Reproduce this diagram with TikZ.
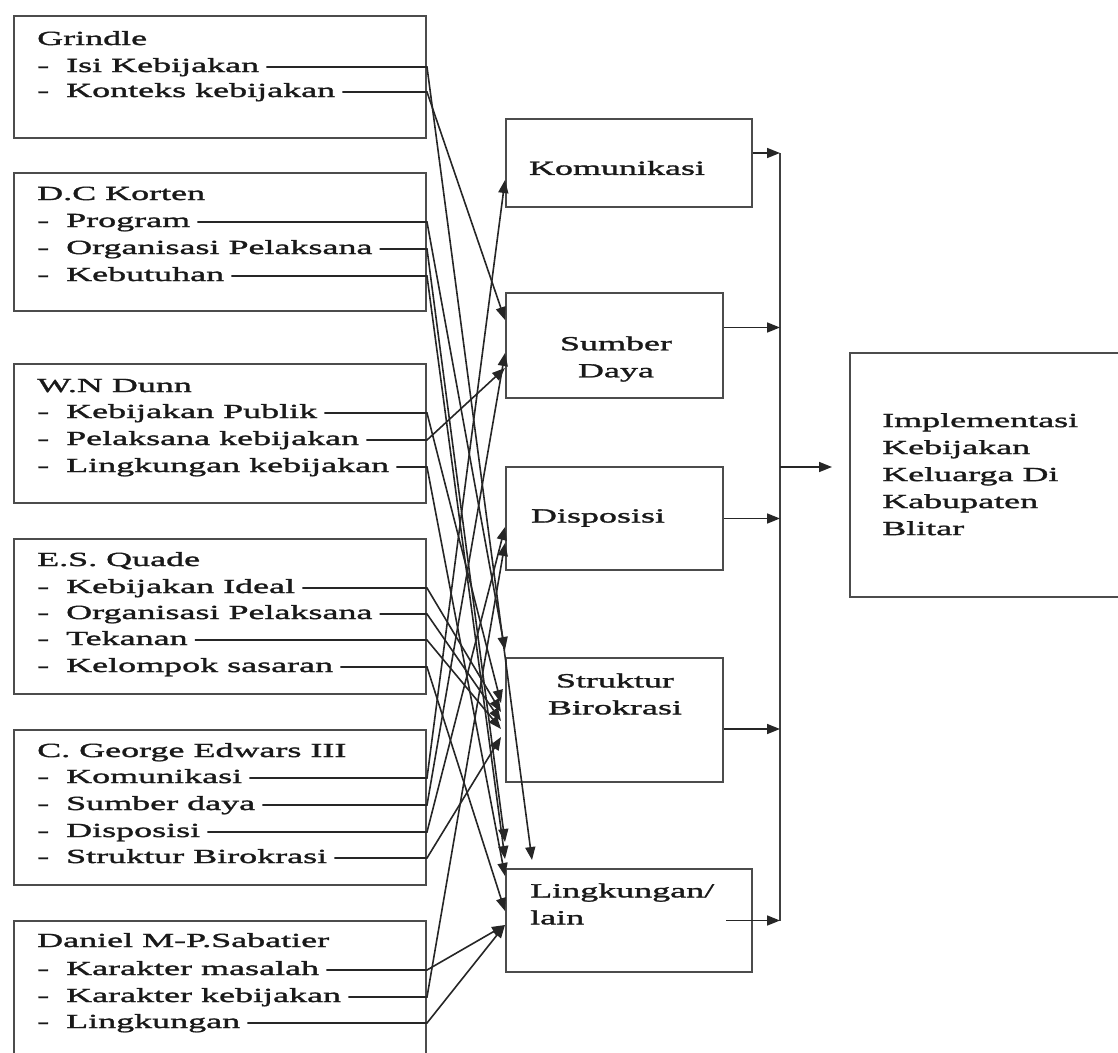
\documentclass[tikz,border=0pt]{standalone}
\usepackage{fontspec}
\setmainfont[FakeStretch=1.8, FakeBold=1.6]{Liberation Serif}
\usetikzlibrary{positioning, arrows.meta}

\newcommand{\itm}[1]{\makebox[29pt][l]{-}#1}

\begin{document}
\begin{tikzpicture}[x=1pt, y=-1pt,
    txt/.style={font=\fontsize{20}{27}\selectfont, inner sep=0pt, text=black!90},
    item/.style={txt, anchor=base west, inner xsep=7pt, text height=14pt, text depth=4pt},
    box/.style={draw=black!70, line width=2pt, inner sep=0pt},
    srcbox/.style={box, anchor=north west, minimum width=412pt},
    link/.style={draw=black!85, line width=1.6pt, -{Triangle[length=13pt,width=10pt]}},
    bar/.style={draw=black!75, line width=2pt}]
    \useasboundingbox (0,0) rectangle (1118,1052);

    % Theories (left column)
    \node[srcbox, minimum height=122pt] (grindle) at (13,15) {};
    \node[item] (grindle-t) at (30,45) {Grindle};
    \node[item] (g1) at (30,72) {\itm{Isi Kebijakan}};
    \node[item] (g2) at (30,97) {\itm{Konteks kebijakan}};

    \node[srcbox, minimum height=138pt] (korten) at (13,172) {};
    \node[item] (korten-t) at (30,200) {D.C Korten};
    \node[item] (k1) at (30,227) {\itm{Program}};
    \node[item] (k2) at (30,254) {\itm{Organisasi Pelaksana}};
    \node[item] (k3) at (30,281) {\itm{Kebutuhan}};

    \node[srcbox, minimum height=139pt] (dunn) at (13,363) {};
    \node[item] (dunn-t) at (30,392) {W.N Dunn};
    \node[item] (d1) at (30,418) {\itm{Kebijakan Publik}};
    \node[item] (d2) at (30,445) {\itm{Pelaksana kebijakan}};
    \node[item] (d3) at (30,472) {\itm{Lingkungan kebijakan}};

    \node[srcbox, minimum height=155pt] (quade) at (13,538) {};
    \node[item] (quade-t) at (30,566) {E.S. Quade};
    \node[item] (q1) at (30,593) {\itm{Kebijakan Ideal}};
    \node[item] (q2) at (30,619) {\itm{Organisasi Pelaksana}};
    \node[item] (q3) at (30,645) {\itm{Tekanan}};
    \node[item] (q4) at (30,672) {\itm{Kelompok sasaran}};

    \node[srcbox, minimum height=155pt] (edwards) at (13,729) {};
    \node[item] (edwards-t) at (30,757) {C. George Edwars III};
    \node[item] (e1) at (30,783) {\itm{Komunikasi}};
    \node[item] (e2) at (30,810) {\itm{Sumber daya}};
    \node[item] (e3) at (30,837) {\itm{Disposisi}};
    \node[item] (e4) at (30,863) {\itm{Struktur Birokrasi}};

    \node[srcbox, minimum height=150pt] (sabatier) at (13,920) {};
    \node[item] (sabatier-t) at (30,947) {Daniel M-P.Sabatier};
    \node[item] (s1) at (30,975) {\itm{Karakter masalah}};
    \node[item] (s2) at (30,1002) {\itm{Karakter kebijakan}};
    \node[item] (s3) at (30,1028) {\itm{Lingkungan}};

    % Variables (middle column)
    \node[box, minimum width=246pt, minimum height=88pt] (komunikasi) at (629,163) {};
    \node[txt] (komunikasi-t) at (617,168) {Komunikasi};
    \node[box, minimum width=217pt, minimum height=105pt] (sumber) at (614.5,345.5) {};
    \node[txt, align=center] (sumber-t) at (616,359) {Sumber\\Daya};
    \node[box, minimum width=217pt, minimum height=103pt] (disposisi) at (614.5,518.5) {};
    \node[txt] (disposisi-t) at (598,518) {Disposisi};
    \node[box, minimum width=217pt, minimum height=124pt] (struktur) at (614.5,720) {};
    \node[txt, align=center] (struktur-t) at (615,694) {Struktur\\Birokrasi};
    \node[box, minimum width=246pt, minimum height=103pt] (lingkungan) at (629,920.5) {};
    \node[txt, align=left, anchor=west] (lingkungan-t) at (530,904) {Lingkungan/\\lain};

    % Result
    \node[box, minimum width=275pt, minimum height=244pt] (impl) at (987.5,475) {};
    \node[txt, align=left, anchor=north west] (impl-t) at (882,413)
        {Implementasi\\Kebijakan\\Keluarga Di\\Kabupaten\\Blitar};

    % arrow ends on the variable boxes
    \coordinate (kom-a) at (505,180);
    \coordinate (sum-a) at (505,320);
    \coordinate (sum-b) at (505,353);
    \coordinate (sum-c) at (505,368);
    \coordinate (dis-a) at (505,527);
    \coordinate (dis-b) at (505,543);
    \coordinate (str-a) at (505,650);
    \coordinate (str-b) at (501,703);
    \coordinate (str-c) at (501,712);
    \coordinate (str-d) at (501,721);
    \coordinate (str-e) at (501,729);
    \coordinate (str-f) at (501,737);
    \coordinate (lin-a) at (505,842);
    \coordinate (lin-b) at (505,859);
    \coordinate (lin-c) at (532,860);
    \coordinate (lin-d) at (505,876);
    \coordinate (lin-e) at (505,911);
    \coordinate (lin-f) at (505,925);

    % Grindle
    \draw[link] (g1.east) -- (g1.east -| grindle.east) -- (lin-c);
    \draw[link] (g2.east) -- (g2.east -| grindle.east) -- (sum-a);
    % Korten
    \draw[link] (k1.east) -- (k1.east -| korten.east) -- (str-a);
    \draw[link] (k2.east) -- (k2.east -| korten.east) -- (lin-a);
    \draw[link] (k3.east) -- (k3.east -| korten.east) -- (lin-b);
    % Dunn
    \draw[link] (d1.east) -- (d1.east -| dunn.east) -- (str-b);
    \draw[link] (d2.east) -- (d2.east -| dunn.east) -- (sum-c);
    \draw[link] (d3.east) -- (d3.east -| dunn.east) -- (lin-d);
    % Quade
    \draw[link] (q1.east) -- (q1.east -| quade.east) -- (str-c);
    \draw[link] (q2.east) -- (q2.east -| quade.east) -- (str-d);
    \draw[link] (q3.east) -- (q3.east -| quade.east) -- (str-e);
    \draw[link] (q4.east) -- (q4.east -| quade.east) -- (lin-e);
    % Edwards
    \draw[link] (e1.east) -- (e1.east -| edwards.east) -- (kom-a);
    \draw[link] (e2.east) -- (e2.east -| edwards.east) -- (sum-b);
    \draw[link] (e3.east) -- (e3.east -| edwards.east) -- (dis-a);
    \draw[link] (e4.east) -- (e4.east -| edwards.east) -- (str-f);
    % Sabatier
    \draw[link] (s1.east) -- (s1.east -| sabatier.east) -- (lin-f);
    \draw[link] (s2.east) -- (s2.east -| sabatier.east) -- (dis-b);
    \draw[link] (s3.east) -- (s3.east -| sabatier.east) -- (lin-f);

    % collecting bar
    \coordinate (bus-top) at (780,153);
    \coordinate (bus-bot) at (780,921);
    \draw[bar] (bus-top) -- (bus-bot);
    \draw[link] ([yshift=10pt]komunikasi.east) -- (bus-top);
    \draw[link] ([yshift=18pt]sumber.east) -- ([yshift=18pt]sumber.east -| bus-top);
    \draw[link] (disposisi.east) -- (disposisi.east -| bus-top);
    \draw[link] ([yshift=-9pt]struktur.east) -- ([yshift=-9pt]struktur.east -| bus-top);
    \draw[link] ([xshift=-27pt]lingkungan.east) -- (lingkungan.east -| bus-top);
    \draw[link] ([yshift=8pt]impl.west -| bus-top) -- ([xshift=-17pt,yshift=8pt]impl.west);
\end{tikzpicture}
\end{document}
